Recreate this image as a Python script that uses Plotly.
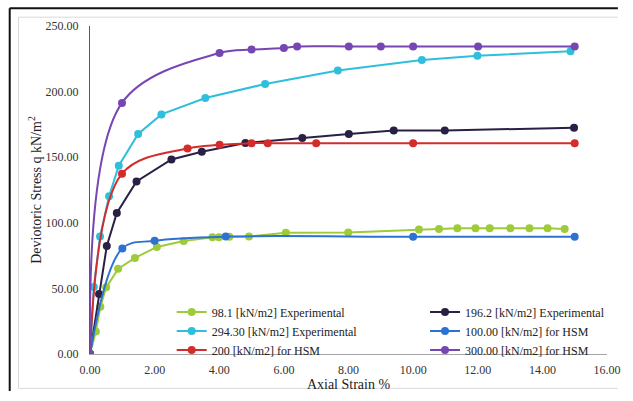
import plotly.graph_objects as go

# ---- data ----
green_x = [0, 0.18, 0.32, 0.50, 0.87, 1.39, 2.07, 2.90, 3.79, 3.99, 4.31, 4.92, 6.06, 7.99,
           10.18, 10.80, 11.37, 11.93, 12.37, 13.01, 13.60, 14.16, 14.69]
green_y = [0, 17.2, 36.0, 50.8, 64.9, 73.2, 81.6, 86.1, 89.0, 89.0, 89.3, 89.6, 92.4, 92.6,
           94.8, 95.3, 95.8, 95.8, 95.8, 95.8, 95.8, 95.8, 95.2]

black_x = [0, 0.28, 0.52, 0.83, 1.44, 2.52, 3.46, 4.81, 6.57, 8.01, 9.40, 10.98, 14.98]
black_y = [0, 45.8, 82.3, 107.5, 131.5, 148.3, 154.2, 160.8, 164.7, 167.7, 170.4, 170.4, 172.4]

cyan_x = [0, 0.12, 0.31, 0.59, 0.89, 1.49, 2.21, 3.57, 5.42, 7.67, 10.27, 11.99, 14.87]
cyan_y = [0, 51.1, 89.5, 120.3, 143.5, 167.7, 182.6, 195.1, 205.8, 216.1, 224.0, 227.3, 230.8]

blue_x = [0, 1.00, 2.00, 4.20, 10.00, 15.00]
blue_y = [0, 80.5, 86.3, 89.5, 89.3, 89.3]

red_x = [0, 0.99, 3.02, 4.01, 5.00, 5.50, 7.00, 10.00, 15.00]
red_y = [0, 137.4, 156.7, 159.4, 160.7, 160.7, 160.7, 160.7, 160.7]

purple_x = [0, 0.99, 4.01, 5.00, 6.00, 6.41, 8.01, 9.00, 10.00, 12.01, 15.00]
purple_y = [0, 191.4, 229.4, 232.0, 233.3, 234.4, 234.4, 234.4, 234.4, 234.4, 234.4]

x_ticks = [0, 2, 4, 6, 8, 10, 12, 14, 16]
y_ticks = [0, 50, 100, 150, 200, 250]

FONT = "Liberation Serif"

series = [
    ("98.1 [kN/m2] Experimental", green_x, green_y, "#9DCB3A", "linear", "legend"),
    ("196.2 [kN/m2] Experimental", black_x, black_y, "#2A1F45", "linear", "legend2"),
    ("294.30 [kN/m2] Experimental", cyan_x, cyan_y, "#2FBFDC", "linear", "legend"),
    ("100.00 [kN/m2] for HSM", blue_x, blue_y, "#2D72D2", "spline", "legend2"),
    ("200 [kN/m2] for HSM", red_x, red_y, "#D42B2B", "spline", "legend"),
    ("300.00 [kN/m2] for HSM", purple_x, purple_y, "#7646B3", "spline", "legend2"),
]

fig = go.Figure()
for name, xs, ys, col, shape, leg in series:
    fig.add_trace(go.Scatter(
        x=xs, y=ys, name=name, mode="lines+markers",
        line=dict(color=col, width=2, shape=shape, smoothing=1.0),
        marker=dict(color=col, size=8),
        legend=leg,
    ))

leg_common = dict(
    font=dict(family=FONT, size=12, color="#222222"),
    bgcolor="rgba(0,0,0,0)", borderwidth=0,
    orientation="v", yanchor="middle", xanchor="left",
    itemwidth=30, tracegroupgap=0,
)

def frame_line(x0, y0, x1, y1, color, width):
    return dict(type="line", xref="paper", yref="paper", x0=x0, y0=y0, x1=x1, y1=y1,
                line=dict(color=color, width=width), layer="below")

fig.update_layout(
    width=633, height=401,
    margin=dict(l=90, r=15, t=26, b=41),
    paper_bgcolor="white", plot_bgcolor="white",
    font=dict(family=FONT, size=12, color="#333333"),
    showlegend=True,
    legend=dict(x=0.158, y=0.07, **leg_common),
    legend2=dict(x=0.648, y=0.07, **leg_common),
    xaxis=dict(
        range=[0, 16], tickvals=x_ticks, tickformat=".2f",
        showgrid=False, zeroline=False, showline=True, linecolor="#A6A6A6", linewidth=1,
        ticks="", ticklabelstandoff=5,
        title=dict(text="Axial Strain %", font=dict(family=FONT, size=14, color="#222222"), standoff=2),
        tickfont=dict(family=FONT, size=12, color="#333333"),
    ),
    yaxis=dict(
        range=[0, 250], tickvals=y_ticks, tickformat=".2f",
        showgrid=False, zeroline=False, showline=True, linecolor="#595959", linewidth=1,
        ticks="", ticklabelstandoff=8,
        title=dict(text="Deviotoric Stress q kN/m<sup>2</sup>", font=dict(family=FONT, size=14, color="#222222"), standoff=0),
        tickfont=dict(family=FONT, size=12, color="#333333"),
    ),
    shapes=[
        # light grey chart-area frame (top, left, bottom)
        frame_line(-0.1383, 1.0269, 1.021, 1.0269, "#D9D9D9", 1),
        frame_line(-0.1383, 1.0269, -0.1383, -0.1048, "#D9D9D9", 1),
        frame_line(-0.1383, -0.1048, 1.021, -0.1048, "#D9D9D9", 1),
        # black outer frame (top and left)
        frame_line(-0.1553, 1.0539, 1.021, 1.0539, "#111111", 2),
        frame_line(-0.1553, 1.0539, -0.1553, -0.113, "#111111", 2),
    ],
)

fig.write_html("out.html")
